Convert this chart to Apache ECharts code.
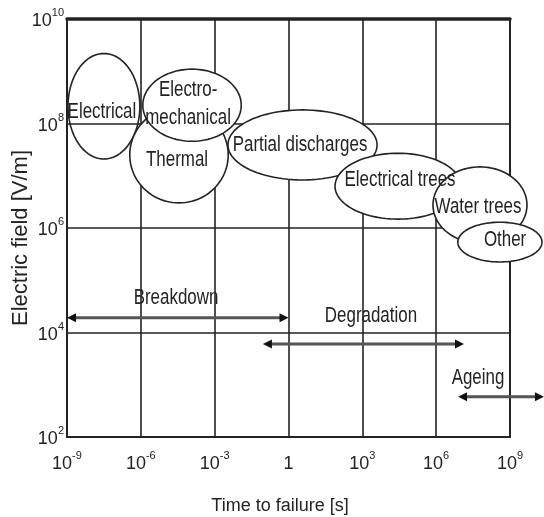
<!DOCTYPE html>
<html>
<head>
<meta charset="utf-8">
<script src="https://cdn.jsdelivr.net/npm/echarts@6/dist/echarts.min.js"></script>
<style>
  html, body { margin: 0; padding: 0; background: #ffffff; }
  #chart { width: 544px; height: 517px; }
</style>
</head>
<body>
<div id="chart"></div>
<script>
// Axis extents (powers of ten) and tick spacing in decades
const timeExpMin = -9, timeExpMax = 9, timeExpStep = 3;
const fieldExpMin = 2, fieldExpMax = 10, fieldExpStep = 2;

// Failure-mechanism regions: centre in log10 units, half extents in decades
const regionNames = ['Electrical', 'Thermal', 'Electro-mechanical', 'Partial discharges', 'Electrical trees', 'Water trees', 'Other'];
const regionLogTime = [-7.5, -4.45, -3.92, 0.57, 4.45, 7.78, 8.59];
const regionLogField = [8.33, 7.40, 8.35, 7.59, 6.80, 6.44, 5.73];
const regionHalfTime = [1.46, 2.0, 2.0, 3.03, 2.56, 1.91, 1.71];
const regionHalfField = [1.01, 0.92, 0.69, 0.67, 0.63, 0.73, 0.38];

// Region captions (log10 anchor positions)
const captionTexts = ['Electrical', 'Thermal', 'Electro-\nmechanical', 'Partial discharges', 'Electrical trees', 'Water trees', 'Other'];
const captionLogTime = [-7.58, -4.53, -4.08, 0.47, 4.53, 7.70, 8.80];
const captionLogField = [8.22, 7.30, 8.37, 7.59, 6.92, 6.40, 5.77];

// Time spans shown as double-headed arrows
const spanNames = ['Breakdown', 'Degradation', 'Ageing'];
const spanFromLogTime = [-9, -1.04, 6.89];
const spanToLogTime = [0, 7.13, 10.38];
const spanLogField = [4.28, 3.78, 2.77];
const spanLabelLogTime = [-4.57, 3.35, 7.70];
const spanLabelLogField = [4.66, 4.32, 3.13];

const pow10 = e => Math.pow(10, e);
const sans = "'Liberation Sans', Arial, Helvetica, sans-serif";
const ink = '#232323';
const squeeze = 0.77;   // horizontal compression of the caption lettering

const regionData = regionNames.map((n, i) => [pow10(regionLogTime[i]), pow10(regionLogField[i]), regionHalfTime[i], regionHalfField[i], i]);
const captionData = captionTexts.map((t, i) => [pow10(captionLogTime[i]), pow10(captionLogField[i]), i]);
const spanData = spanNames.map((n, i) => [pow10(spanFromLogTime[i]), pow10(spanLogField[i]), pow10(spanToLogTime[i]), i]);
const spanLabelData = spanNames.map((n, i) => [pow10(spanLabelLogTime[i]), pow10(spanLabelLogField[i]), i]);

function powerLabel(v) {
  const e = Math.round(Math.log10(v));
  return e === 0 ? '{b|1}' : '{b|10}{s|' + e + '}';
}
const tickRich = {
  b: { fontFamily: sans, fontSize: 18, color: ink, verticalAlign: 'bottom', lineHeight: 23 },
  s: { fontFamily: sans, fontSize: 11, color: ink, verticalAlign: 'top', lineHeight: 11 }
};

function logAxis(min, max, step, extra) {
  return Object.assign({
    type: 'log', logBase: 10, min: min, max: max, interval: step,
    axisTick: { show: false },
    splitLine: { show: true, lineStyle: { color: ink, width: 1.6 } },
    axisLine: { show: true, lineStyle: { color: ink, width: 2 } }
  }, extra);
}

function squeezedText(x, y, text, extraStyle) {
  return {
    type: 'text', x: x, y: y, scaleX: squeeze, scaleY: 1,
    style: Object.assign({
      text: text, fill: ink, font: '22px ' + sans,
      align: 'center', verticalAlign: 'middle'
    }, extraStyle || {})
  };
}

const chart = echarts.init(document.getElementById('chart'), null, { renderer: 'canvas' });

chart.setOption({
  animation: false,
  backgroundColor: '#ffffff',
  grid: { left: 67, top: 19, right: 34, bottom: 80, containLabel: false, outerBoundsMode: 'none' },
  xAxis: [
    logAxis(pow10(timeExpMin), pow10(timeExpMax), timeExpStep, {
      position: 'bottom',
      name: 'Time to failure [s]', nameLocation: 'middle', nameGap: 60, nameMoveOverlap: false,
      nameTextStyle: { fontFamily: sans, fontSize: 18, color: ink, padding: [0, 17, 0, 0] },
      axisLabel: { margin: 13, formatter: powerLabel, rich: tickRich }
    }),
    logAxis(pow10(timeExpMin), pow10(timeExpMax), timeExpStep, {
      position: 'top', axisLabel: { show: false }, splitLine: { show: false },
      axisLine: { show: true, lineStyle: { color: ink, width: 3.5 } }
    })
  ],
  yAxis: [
    logAxis(pow10(fieldExpMin), pow10(fieldExpMax), fieldExpStep, {
      position: 'left',
      name: 'Electric field [V/m]', nameLocation: 'middle', nameGap: 35, nameMoveOverlap: false,
      nameTextStyle: { fontFamily: sans, fontSize: 22, color: ink, padding: [0, 20, 0, 0] },
      axisLabel: { margin: 3, formatter: powerLabel, rich: tickRich }
    }),
    logAxis(pow10(fieldExpMin), pow10(fieldExpMax), fieldExpStep, {
      position: 'right', axisLabel: { show: false }, splitLine: { show: false }
    })
  ],
  series: [
    {
      // Region outlines; later regions are painted over earlier ones
      type: 'custom',
      xAxisIndex: 0, yAxisIndex: 0,
      data: regionData,
      encode: { x: 0, y: 1 },
      silent: true,
      renderItem: function (params, api) {
        const cxL = Math.log10(api.value(0)), cyL = Math.log10(api.value(1));
        const hx = api.value(2), hy = api.value(3), idx = api.value(4);
        const c = api.coord([pow10(cxL), pow10(cyL)]);
        const r = api.coord([pow10(cxL + hx), pow10(cyL + hy)]);
        const rx = r[0] - c[0], ry = c[1] - r[1];
        const pts = [];
        for (let k = 0; k < 96; k++) {
          const a = (k / 96) * Math.PI * 2;
          pts.push([c[0] + rx * Math.cos(a), c[1] + ry * Math.sin(a)]);
        }
        return {
          type: 'polygon',
          shape: { points: pts },
          style: { fill: idx === 0 ? 'rgba(255,255,255,0)' : '#ffffff', stroke: ink, lineWidth: 1.6 }
        };
      },
      z: 3
    },
    {
      // Region captions
      type: 'custom',
      xAxisIndex: 0, yAxisIndex: 0,
      data: captionData,
      encode: { x: 0, y: 1 },
      silent: true,
      renderItem: function (params, api) {
        const p = api.coord([api.value(0), api.value(1)]);
        return squeezedText(p[0], p[1], captionTexts[api.value(2)], { lineHeight: 28 });
      },
      z: 5
    },
    {
      // Double-headed span arrows
      type: 'custom',
      xAxisIndex: 0, yAxisIndex: 0,
      data: spanData,
      encode: { x: [0, 2], y: 1 },
      silent: true,
      renderItem: function (params, api) {
        const a = api.coord([api.value(0), api.value(1)]);
        const b = api.coord([api.value(2), api.value(1)]);
        const len = 9, half = 4.5;
        return {
          type: 'group',
          children: [
            { type: 'line', shape: { x1: a[0] + len - 1, y1: a[1], x2: b[0] - len + 1, y2: b[1] },
              style: { stroke: '#555555', lineWidth: 3 } },
            { type: 'polygon', shape: { points: [[a[0], a[1]], [a[0] + len, a[1] - half], [a[0] + len, a[1] + half]] },
              style: { fill: '#111111' } },
            { type: 'polygon', shape: { points: [[b[0], b[1]], [b[0] - len, b[1] - half], [b[0] - len, b[1] + half]] },
              style: { fill: '#111111' } }
          ]
        };
      },
      z: 4
    },
    {
      // Span captions
      type: 'custom',
      xAxisIndex: 0, yAxisIndex: 0,
      data: spanLabelData,
      encode: { x: 0, y: 1 },
      silent: true,
      renderItem: function (params, api) {
        const p = api.coord([api.value(0), api.value(1)]);
        return squeezedText(p[0], p[1], spanNames[api.value(2)]);
      },
      z: 5
    }
  ]
});
</script>
</body>
</html>
